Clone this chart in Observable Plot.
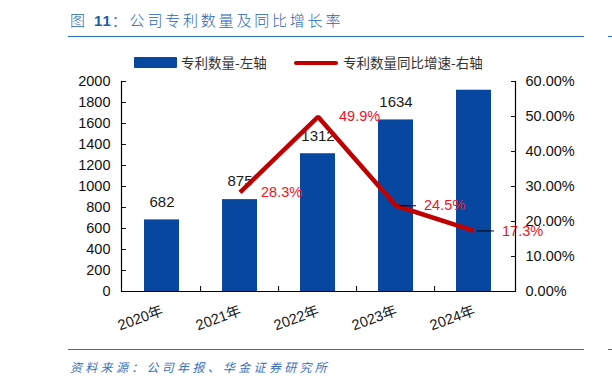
<!DOCTYPE html>
<html><head><meta charset="utf-8">
<script src="https://cdn.jsdelivr.net/npm/d3@7"></script>
<script src="https://cdn.jsdelivr.net/npm/@observablehq/plot@0.6"></script>
<style>
html,body{margin:0;padding:0;background:#fff;}
#page{position:relative;width:612px;height:384px;overflow:hidden;font-family:"Liberation Sans",Arial,"Noto Sans CJK SC",sans-serif;}
#title{position:absolute;left:70px;top:10px;font-family:"Noto Sans CJK SC",sans-serif;font-size:15px;font-weight:300;letter-spacing:2.8px;color:#2a64b0;white-space:nowrap;line-height:20px;}
#title b{font-family:"Liberation Sans",Arial,sans-serif;font-weight:bold;letter-spacing:1px;color:#1f5ca8;}
.rule{position:absolute;height:0;border-top:1.6px solid #2a72c0;}
#chart{position:absolute;left:0;top:40px;}
#legend{position:absolute;left:0;top:52px;width:612px;height:20px;font-family:"Noto Sans CJK SC",sans-serif;font-size:13.5px;color:#333;}
#legend .sw{position:absolute;}
#legend .lt{position:absolute;top:0;line-height:20px;white-space:nowrap;}
#footer{position:absolute;left:70px;top:358px;font-family:"Noto Sans CJK SC",sans-serif;font-size:12px;letter-spacing:3.3px;font-style:italic;color:#3a6fb7;white-space:nowrap;line-height:18px;}
</style></head>
<body><div id="page">
<div id="title">图 <b>11</b>：公司专利数量及同比增长率</div>
<div class="rule" style="left:68px;top:36px;width:516px;"></div>
<div class="rule" style="left:608px;top:36px;width:10px;"></div>
<div id="chart"></div>
<div id="legend">
  <div class="sw" style="left:134px;top:5px;width:43px;height:11px;background:#0847a0;border-radius:1px;"></div>
  <div class="lt" style="left:181px;">专利数量-左轴</div>
  <div class="sw" style="left:294px;top:9px;width:44px;height:4px;background:#c00000;border-radius:2px;"></div>
  <div class="lt" style="left:343px;">专利数量同比增速-右轴</div>
</div>
<div class="rule" style="left:68px;top:349px;width:516px;"></div>
<div class="rule" style="left:608px;top:349px;width:10px;"></div>
<div id="footer">资料来源：公司年报、华金证券研究所</div>
</div>
<script>
const years = ["2020年", "2021年", "2022年", "2023年", "2024年"];
const patents = [682, 875, 1312, 1634, 1917];
const patentLabels = ["682", "875", "1312", "1634", ""];
const growth = [null, 28.3, 49.9, 24.5, 17.3];
const growthLabels = ["", "28.3%", "49.9%", "24.5%", "17.3%"];
const leftTicks = [0, 200, 400, 600, 800, 1000, 1200, 1400, 1600, 1800, 2000];
const rightTicks = [0, 10, 20, 30, 40, 50, 60];

const leftMax = 2000, rightMax = 60, k = leftMax / rightMax;
const rows = years.map((year, i) => ({year, patents: patents[i], plabel: patentLabels[i], growth: growth[i], glabel: growthLabels[i], i}));
const lineRows = rows.filter(d => d.growth != null);
const nearLabels = lineRows.filter(d => d.i < 3);
const farLabels = lineRows.filter(d => d.i >= 3);

const W = 612, H = 300, mL = 121, mR = 97, mT = 41, mB = 49;
const innerH = H - mT - mB;
const step = (W - mL - mR) / years.length;
const bw = step * 0.45;

const chart = Plot.plot({
  width: W, height: H,
  marginLeft: mL, marginRight: mR, marginTop: mT, marginBottom: mB,
  style: {fontFamily: "'Liberation Sans', Arial, 'Noto Sans CJK SC', sans-serif", color: "#111", background: "transparent", overflow: "visible"},
  x: {domain: years, paddingInner: 0.55, paddingOuter: 0.275, axis: null},
  y: {domain: [0, leftMax], axis: null},
  marks: [
    Plot.barY(rows, {x: "year", y: "patents", fill: "#0847a0"}),
    Plot.text(rows.filter(d => d.plabel), {x: "year", y: "patents", text: "plabel", dy: -18, fontSize: 15, fill: "#1a1a1a"}),
    Plot.line(lineRows, {x: "year", y: d => d.growth * k, stroke: "#c00000", strokeWidth: 4.5, strokeLinecap: "butt", strokeLinejoin: "miter"}),
    Plot.tickY(farLabels, {x: "year", y: d => d.growth * k, stroke: "#000", strokeWidth: 1, insetLeft: bw / 2, dx: 3}),
    Plot.text(nearLabels, {x: "year", y: d => d.growth * k, text: "glabel", textAnchor: "start", dx: 21, fontSize: 14.5, fill: "#f0141e"}),
    Plot.text(farLabels, {x: "year", y: d => d.growth * k, text: "glabel", textAnchor: "start", dx: 28, fontSize: 14.5, fill: "#f0141e"}),
    Plot.axisY({anchor: "left", ticks: leftTicks, tickSize: -5, tickPadding: 16, tickFormat: d => String(d), fontSize: 14.5, label: null}),
    Plot.axisY({anchor: "right", ticks: rightTicks.map(v => v * k), tickSize: -5, tickPadding: 15, tickFormat: d => (d / k).toFixed(2) + "%", fontSize: 14.5, label: null}),
    Plot.ruleY([0], {stroke: "#000", strokeWidth: 1.2}),
    Plot.frame({anchor: "left", stroke: "#000", strokeWidth: 1.2}),
    Plot.frame({anchor: "right", stroke: "#000", strokeWidth: 1.2}),
    Plot.ruleX(years.slice(1), {x: d => d, dx: -step / 2, insetTop: innerH - 5, stroke: "#000"}),
    Plot.text(years, {x: d => d, frameAnchor: "bottom", text: d => d, rotate: -20, textAnchor: "end", dx: 2, dy: 23, fontSize: 14.5, fill: "#1a1a1a"})
  ]
});
document.getElementById("chart").appendChild(chart);
</script>
</body></html>
